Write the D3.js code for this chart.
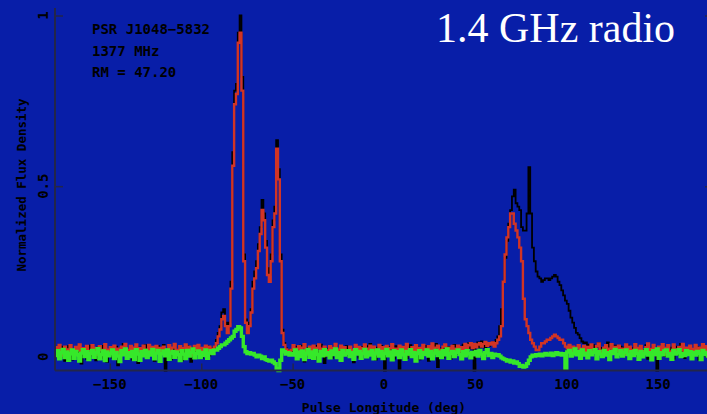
<!DOCTYPE html>
<html><head><meta charset="utf-8">
<script src="https://cdn.jsdelivr.net/npm/d3@7"></script>
<style>
html,body{margin:0;padding:0;background:#081ea8;overflow:hidden}
svg{display:block}
</style></head>
<body>
<svg id="chart" width="707" height="414"></svg>
<script>
// Pulse longitude bins: 1 deg wide, from -180 to 180 (bin centres)
const longitude = d3.range(-179.5, 180, 1);

// Total intensity (black)
const totalI = [
.015,.028,-.004,.030,.008,-.012,.022,.031,.002,-.008,
.020,.006,.029,-.002,-.020,.017,.026,-.006,.012,.033,
.004,.024,-.010,.028,.015,-.003,.032,.009,-.015,.019,
.025,-.002,.013,.030,-.025,.006,.021,.038,.011,-.006,
.016,.030,-.008,.022,.010,-.018,.027,.003,.018,.034,
-.004,.020,.008,.029,-.012,.015,.031,.002,.022,.035,
-.040,.012,.026,-.007,.018,.030,-.002,.014,.027,-.010,
.021,.005,.032,.012,-.015,.025,.001,.019,.029,.008,
-.002,.024,.010,.031,.004,.020,.026,.030,.050,.070,
.09,.13,.14,.10,.08,.10,.22,.60,.78,.80,
.95,1.0,.82,.30,.11,.08,.10,.14,.22,.25,
.28,.33,.38,.46,.42,.34,.26,.24,.30,.40,
.44,.635,.55,.30,.08,.04,.025,.015,.02,.008,
.022,.030,-.004,.015,.033,.008,-.014,.026,.012,.029,
.003,.021,.032,-.006,.017,.036,.010,-.018,.024,.013,
.028,-.003,.019,.033,.007,.022,-.009,.027,.014,.031,
.005,.025,.011,-.016,.030,.017,-.002,.029,.009,.023,
.014,.031,.038,.004,.020,-.008,.027,.012,.032,.002,
-.040,.018,.029,.006,.023,-.005,.031,.013,-.035,.024,
.010,.030,-.004,.019,.034,.003,.025,.012,.028,-.007,
.022,.007,.032,.015,-.012,.027,.009,.030,.038,-.030,
.013,.025,-.002,.033,.016,.029,-.006,.021,.035,.008,
.026,.010,.030,.036,.014,.031,.040,.025,.035,-.040,
.030,.042,.028,.045,.033,.026,.040,.032,.038,.042,
.04,.05,.06,.09,.14,.22,.29,.34,.39,.43,
.47,.49,.45,.44,.43,.38,.37,.37,.42,.556,
.42,.32,.28,.25,.235,.23,.22,.225,.23,.23,
.225,.23,.235,.24,.235,.22,.21,.195,.18,.165,
.155,.135,.115,.10,.085,.07,.065,.055,.045,.04,
.042,.030,.036,.022,.034,.018,.030,.040,.026,.015,
.020,.034,.042,.008,.028,.016,.033,.002,.024,.030,
.005,.027,.019,.033,-.004,.025,.011,.031,.003,.022,
.029,.009,.020,.034,-.006,.024,.013,.030,.017,-.040,
.010,.026,.035,.002,.019,.031,.008,.027,-.005,.018,
.030,.006,.038,.017,-.004,.025,.011,.032,.002,.021,
.016,.029,-.008,.020,.033,.004,.027,.012,.030,-.003
];

// Linear polarisation (red)
const linearL = [
.028,.010,.035,.018,.004,.030,.022,.008,.034,.016,
.006,.029,.019,.036,.012,.025,.003,.032,.017,.009,
.034,.013,.026,.005,.031,.020,.010,.037,.021,.007,
.028,.015,.033,.009,.024,.002,.030,.018,.038,.012,
.020,.032,.008,.027,.036,.013,.025,.004,.033,.021,
.010,.035,.017,.029,.006,.032,.014,.026,.011,.030,
.022,.005,.034,.013,.027,.038,.009,.020,.031,.008,
.025,.036,.011,.030,.017,.004,.032,.021,.035,.013,
.026,.010,.033,.018,.030,.014,.024,.030,.040,.060,
.08,.11,.12,.09,.07,.09,.20,.56,.74,.77,
.92,.95,.78,.28,.10,.07,.09,.13,.20,.23,
.26,.31,.36,.43,.40,.32,.24,.22,.28,.38,
.42,.61,.52,.28,.07,.035,.022,.018,.015,.020,
.034,.009,.024,.031,.012,.027,.037,.006,.021,.030,
.015,.033,.008,.026,.036,.011,.024,.030,.004,.019,
.031,.012,.026,.038,.009,.022,.033,.006,.028,.016,
.008,.030,.020,.011,.035,.018,.029,.003,.025,.036,
.024,.010,.033,.016,.030,.007,.021,.035,.012,.028,
.018,.032,.009,.026,.037,.014,.024,.006,.033,.020,
.029,.012,.038,.019,.005,.028,.016,.034,.010,.026,
.014,.035,.008,.023,.031,.017,.039,.009,.027,.033,
.021,.006,.030,.036,.013,.027,.018,.032,.007,.024,
.033,.016,.028,.010,.038,.022,.034,.040,.026,.038,
.028,.036,.040,.030,.038,.044,.032,.040,.036,.042,
.03,.04,.05,.06,.09,.22,.30,.35,.38,.42,
.42,.39,.37,.35,.32,.28,.17,.11,.09,.07,
.05,.04,.03,.02,.02,.03,.04,.04,.045,.05,
.05,.055,.06,.065,.06,.055,.05,.05,.04,.03,
.025,.035,.018,.030,.012,.027,.034,.010,.024,.032,
.016,.029,.008,.036,.021,.012,.031,.039,.018,.006,
.027,.034,.013,.024,.037,.009,.029,.017,.033,.011,
.024,.006,.036,.015,.030,.020,.010,.037,.026,.013,
.032,.017,.008,.028,.039,.012,.023,.035,.005,.021,
.030,.013,.037,.007,.026,.034,.016,.010,.036,.022,
.011,.029,.019,.038,.008,.027,.015,.033,.023,.006,
.035,.014,.027,.009,.037,.020,.031,.012,.024,.029
];

// Circular polarisation (green)
const circularV = [
.004,.018,-.006,.012,.022,-.002,.014,-.010,.009,.020,
-.004,.016,.006,-.012,.011,.021,.001,.015,-.008,.010,
.019,-.001,.012,.024,-.006,.007,.017,-.011,.014,.003,
.009,.020,-.005,.013,.002,-.014,.018,.006,.023,-.004,
.012,.001,.016,-.008,.021,.008,-.010,.015,.003,.019,
-.002,.014,.005,.022,-.006,.011,.019,-.013,.009,.017,
.003,.020,-.007,.011,.016,-.001,.014,.006,-.011,.018,
.008,-.005,.019,.002,.013,.023,-.003,.010,.017,-.002,
.013,.004,.020,-.004,.011,.018,.010,.020,.020,.025,
.030,.035,.035,.040,.045,.050,.055,.060,.075,.080,
.088,.085,.060,.030,.015,.010,.012,.008,.010,.005,
.000,.005,.002,-.005,.000,-.008,-.010,-.012,-.010,-.015,
-.020,-.035,-.040,-.010,.020,.015,.008,.012,.005,.010,
.005,.020,-.006,.014,.001,.017,-.008,.011,.022,-.001,
.014,-.004,.019,.007,-.012,.016,.003,.021,.006,.012,
-.003,.017,.007,.023,-.002,.013,-.010,.019,.005,.011,
.018,.001,.013,-.007,.021,.008,.016,-.004,.010,.022,
.000,.014,.005,.019,-.006,.011,.020,.002,.016,-.005,
.010,.022,.003,.014,-.009,.018,.006,.015,-.002,.020,
.006,-.007,.016,.008,.021,.001,.013,-.012,.010,.018,
-.003,.013,.007,.020,.002,.016,-.006,.011,.019,.004,
.014,-.002,.018,.006,.023,-.004,.010,.016,.001,.013,
.020,.007,-.006,.015,.003,.018,.009,-.003,.013,.006,
.016,.002,.019,.008,-.005,.012,.021,.004,.010,-.002,
.008,.004,.006,.002,-.003,-.006,-.008,-.012,-.010,-.015,
-.012,-.018,-.015,-.020,-.028,-.025,-.030,-.028,-.020,-.010,
.000,.005,.002,.006,.004,.008,.003,.007,.010,.005,
.006,.011,.004,.008,.012,.007,.010,.005,.009,-.035,
.014,.019,.002,.010,.023,.006,.016,-.004,.020,.005,
.011,-.003,.018,.006,.013,.021,-.006,.015,.008,.001,
.019,.005,.012,-.008,.016,.010,.022,.000,.008,.018,
.002,.013,.020,.007,-.005,.015,.004,.019,.010,-.007,
.016,.000,.010,.021,.005,.012,-.009,.018,.007,.023,
-.004,.012,.006,.017,.020,.002,.010,-.007,.019,.008,
.012,.021,.001,.010,.004,.018,.007,.015,-.006,.013,
.005,.016,.010,-.008,.019,.007,.013,.002,.021,.009
];

const xMinorTicks = d3.range(-170, 180, 10);
const xMajorTicks = [-150, -100, -50, 0, 50, 100, 150];
const yMinorTicks = d3.range(0, 11).map(d => d / 10);
const yMajorTicks = [0, 0.5, 1];
const yTickLabels = ["0", "0.5", "1"];
const infoLines = ["PSR J1048\u22125832", "1377 MHz", "RM = 47.20"];
const yTitle = "Normalized Flux Density";
const xTitle = "Pulse Longitude (deg)";
const bandTitle = "1.4 GHz radio";

(function () {
const svg = d3.select("#chart");
const W = 707, H = 414;
const pLeft = 55, pRight = 713, pTop = 8, pBottom = 370.5;

svg.append("rect").attr("width", W).attr("height", H).attr("fill", "#081ea8");

const x = d3.scaleLinear().domain([-180, 180]).range([pLeft, pRight]);
const y = d3.scaleLinear().domain([-0.04, 1.022]).range([pBottom, pTop]);

const axisColor = "#23264a";
const textColor = "#000000";

// Left axis
const gL = svg.append("g").attr("transform", `translate(${pLeft},0)`);
gL.call(d3.axisRight(y).tickValues(yMinorTicks).tickSize(5).tickFormat(""));
gL.call(d3.axisRight(y).tickValues(yMajorTicks).tickSize(8).tickFormat(""));
gL.selectAll(".domain").remove();
gL.selectAll("line").attr("stroke", axisColor).attr("stroke-width", 1.5);

// Right axis (mostly off-canvas)
const gR = svg.append("g").attr("transform", `translate(${pRight},0)`);
gR.call(d3.axisLeft(y).tickValues(yMinorTicks).tickSize(5).tickFormat(""));
gR.call(d3.axisLeft(y).tickValues(yMajorTicks).tickSize(8).tickFormat(""));
gR.selectAll(".domain").remove();
gR.selectAll("line").attr("stroke", axisColor).attr("stroke-width", 1.5);

// Bottom axis
const gB = svg.append("g").attr("transform", `translate(0,${pBottom})`);
gB.call(d3.axisTop(x).tickValues(xMinorTicks).tickSize(4).tickFormat(""));
gB.call(d3.axisTop(x).tickValues(xMajorTicks).tickSize(7).tickFormat(""));
gB.selectAll(".domain").remove();
gB.selectAll("line").attr("stroke", axisColor).attr("stroke-width", 1.5);

// Data lines
const line = d3.line().x((d, i) => x(longitude[i])).y(d => y(d)).curve(d3.curveStep);
svg.append("path").datum(totalI).attr("d", line)
  .attr("fill", "none").attr("stroke", "#000").attr("stroke-width", 1.8);
svg.append("path").datum(linearL).attr("d", line)
  .attr("fill", "none").attr("stroke", "#d23424").attr("stroke-width", 2.4);
svg.append("path").datum(circularV).attr("d", line)
  .attr("fill", "none").attr("stroke", "#36e82a").attr("stroke-width", 3.4);

// Axis frame lines
svg.append("line").attr("x1", pLeft).attr("x2", pLeft).attr("y1", pTop).attr("y2", pBottom)
  .attr("stroke", axisColor).attr("stroke-width", 2);
svg.append("line").attr("x1", pLeft).attr("x2", pRight).attr("y1", pBottom).attr("y2", pBottom)
  .attr("stroke", axisColor).attr("stroke-width", 2);

const mono = "'DejaVu Sans Mono', monospace";

// X tick labels
svg.append("g").selectAll("text").data(xMajorTicks).join("text")
  .attr("x", d => x(d)).attr("y", 389)
  .attr("text-anchor", "middle")
  .attr("font-family", mono).attr("font-weight", "bold").attr("font-size", 14)
  .attr("fill", textColor)
  .text(d => d < 0 ? "\u2212" + Math.abs(d) : String(d));

// Y tick labels (rotated)
svg.append("g").selectAll("text").data(yMajorTicks).join("text")
  .attr("transform", d => `translate(48,${y(d)}) rotate(-90)`)
  .attr("text-anchor", "middle")
  .attr("font-family", mono).attr("font-weight", "bold").attr("font-size", 14)
  .attr("fill", textColor)
  .text((d, i) => yTickLabels[i]);

// Axis titles
svg.append("text")
  .attr("transform", `translate(26,185) rotate(-90)`)
  .attr("text-anchor", "middle")
  .attr("font-family", mono).attr("font-weight", "bold").attr("font-size", 12.5)
  .attr("fill", textColor).text(yTitle);
svg.append("text")
  .attr("x", x(0)).attr("y", 412)
  .attr("text-anchor", "middle")
  .attr("font-family", mono).attr("font-weight", "bold").attr("font-size", 13)
  .attr("fill", textColor).text(xTitle);

// Info block
svg.append("g").selectAll("text").data(infoLines).join("text")
  .attr("x", 92).attr("y", (d, i) => 34 + i * 21.5)
  .attr("font-family", mono).attr("font-weight", "bold").attr("font-size", 14)
  .attr("fill", textColor).text(d => d);

// Band title
svg.append("text")
  .attr("x", 436).attr("y", 42)
  .attr("font-family", "'Liberation Serif', 'Times New Roman', serif")
  .attr("font-size", 42).attr("fill", "#ffffff")
  .text(bandTitle);
})();
</script>
</body></html>
